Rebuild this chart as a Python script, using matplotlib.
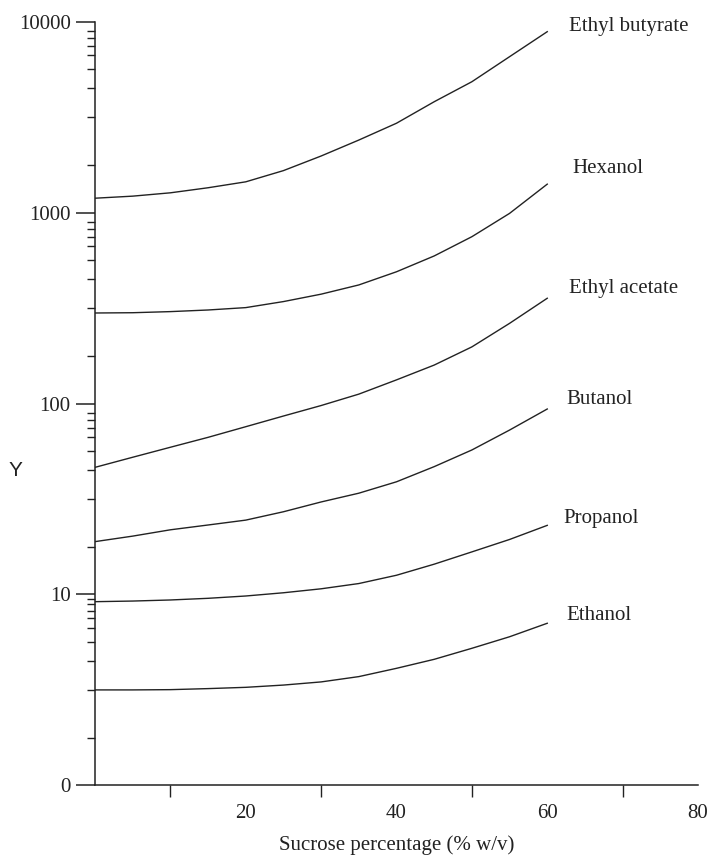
"""Log-scale curves of volatile compounds vs sucrose percentage"""
import numpy as np
import matplotlib
matplotlib.use("Agg")
import matplotlib.pyplot as plt

# sucrose percentage (% w/v)
sucrose = [0, 5, 10, 15, 20, 25, 30, 35, 40, 45, 50, 55, 60]

# values, one list per compound
ethyl_butyrate = [1190, 1220, 1270, 1350, 1450, 1660, 1980, 2400, 2940, 3810, 4850, 6560, 8870]
hexanol = [298, 299, 303, 309, 318, 342, 374, 418, 490, 593, 748, 991, 1410]
ethyl_acetate = [46.3, 52.3, 59.0, 66.5, 75.6, 86.0, 97.6, 112, 133, 159, 198, 263, 356]
butanol = [18.9, 20.2, 21.8, 23.1, 24.5, 27.1, 30.5, 33.9, 38.9, 46.7, 57.1, 72.6, 93.6]
propanol = [9.16, 9.23, 9.35, 9.54, 9.81, 10.2, 10.7, 11.4, 12.6, 14.4, 16.7, 19.4, 23.0]
ethanol = [3.16, 3.16, 3.17, 3.21, 3.26, 3.35, 3.48, 3.71, 4.10, 4.57, 5.22, 6.00, 7.06]

names = ["Ethyl butyrate", "Hexanol", "Ethyl acetate", "Butanol", "Propanol", "Ethanol"]
series = [ethyl_butyrate, hexanol, ethyl_acetate, butanol, propanol, ethanol]
label_x = [62.9, 63.3, 62.9, 62.5, 62.1, 62.6]
label_y = [9490, 1712, 402, 105.6, 24.9, 7.80]

y_ticks = [1, 10, 100, 1000, 10000]
y_tick_labels = ["0", "10", "100", "1000", "10000"]
x_ticks = [20, 40, 60, 80]
x_minor = [10, 30, 50, 70]

ink = "#222222"
serif = "Liberation Serif"

fig = plt.figure(figsize=(7.1, 8.56), dpi=100)
ax = fig.add_axes([0.1338, 0.0826, 0.8493, 0.892])

for name, vals in zip(names, series):
    ax.plot(sucrose, vals, color=ink, lw=1.0, solid_joinstyle="round")

for name, lx, ly in zip(names, label_x, label_y):
    ax.text(lx, ly, name, ha="left", va="center", fontsize=15,
            family=serif, color=ink)

ax.set_yscale("log")
ax.set_xlim(0, 80)
ax.set_ylim(1, 10000)

# odd spacing of the minor ticks on the original log axis
fracs = [0.05, 0.085, 0.126, 0.176, 0.248, 0.349, 0.5, 0.75]
minor = []
for d in range(1, 5):
    for f in fracs:
        minor.append(10 ** (d - f))
minor.append(10 ** (1 - 0.026))
ax.set_yticks(y_ticks)
ax.set_yticklabels(y_tick_labels)
ax.set_yticks(minor, minor=True)
ax.yaxis.set_minor_formatter(matplotlib.ticker.NullFormatter())

ax.set_xticks(x_ticks)
ax.set_xticks(x_minor, minor=True)

ax.tick_params(axis="y", which="major", direction="out", length=13.5, width=1.1,
               pad=4, labelsize=15, color=ink, labelcolor=ink)
ax.tick_params(axis="y", which="minor", direction="out", length=5.5, width=1.0, color=ink)
ax.tick_params(axis="x", which="major", length=0, pad=13.5, labelsize=15, labelcolor=ink)
ax.tick_params(axis="x", which="minor", direction="out", length=8.5, width=1.0, color=ink)
for lab in ax.get_xticklabels() + ax.get_yticklabels():
    lab.set_family(serif)

for side in ["top", "right"]:
    ax.spines[side].set_visible(False)
for side in ["left", "bottom"]:
    ax.spines[side].set_linewidth(1.1)
    ax.spines[side].set_color(ink)

ax.set_xlabel("Sucrose percentage (% w/v)", fontsize=15, family=serif, color=ink, labelpad=9)
fig.text(15.5 / 710, 1 - 470 / 856, "Y", fontsize=15, family="Liberation Sans",
         ha="center", va="center", color=ink)

fig.savefig("out.png", dpi=100)
